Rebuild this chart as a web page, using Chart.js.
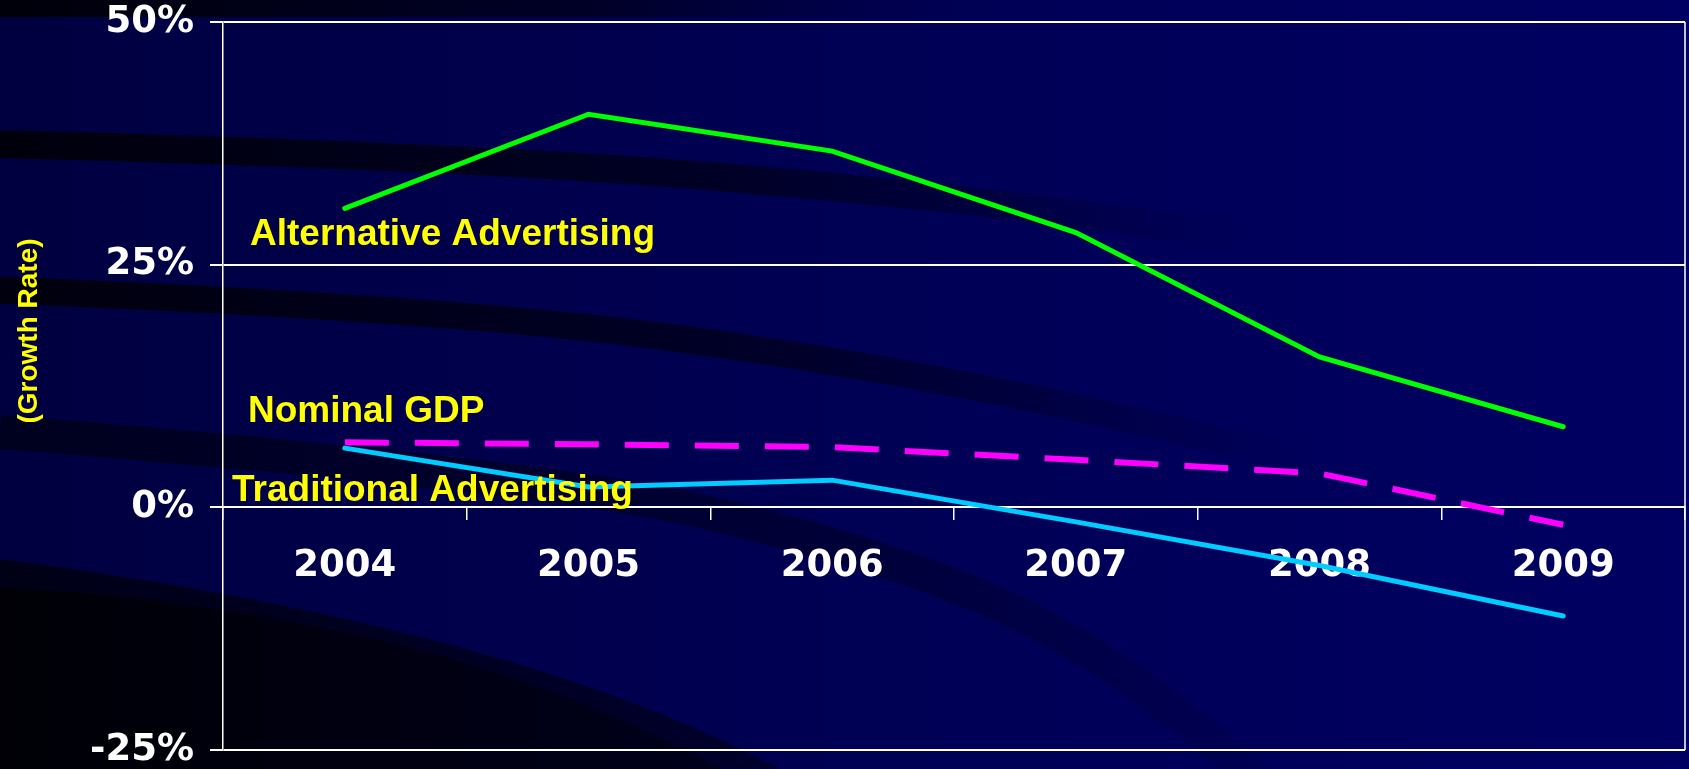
<!DOCTYPE html>
<html>
<head>
<meta charset="utf-8">
<title>Growth Rate</title>
<script src="https://cdn.jsdelivr.net/npm/chart.js@4/dist/chart.umd.min.js"></script>
<style>
  html, body { margin: 0; padding: 0; background: #00004a; overflow: hidden; }
  #wrap { width: 1689px; height: 769px; position: relative; }
</style>
</head>
<body>
<div id="wrap"><canvas id="growthChart"></canvas></div>
<script>
// values (percent growth per year)
const years = ['2004', '2005', '2006', '2007', '2008', '2009'];
const alternativeAdvertising = [30.8, 40.5, 36.7, 28.3, 15.5, 8.3];
const nominalGdp = [6.7, 6.5, 6.2, 4.9, 3.5, -1.8];
const traditionalAdvertising = [6.1, 2.1, 2.8, -1.5, -6.0, -11.2];
const yTickValues = [50, 25, 0, -25];
const seriesNames = ['Alternative Advertising', 'Nominal GDP', 'Traditional Advertising'];
const axisTitle = '(Growth Rate)';

const YELLOW = '#FFFF00';
const TICK_FONT = { family: '"DejaVu Sans", Arial, sans-serif', size: 37, weight: 'bold' };

// draws the dark navy slide background with its curved bands
const slideBackground = {
  id: 'slideBackground',
  beforeDraw(chart) {
    const { ctx, width, height } = chart;
    ctx.save();

    const base = ctx.createLinearGradient(0, 0, width, 0);
    base.addColorStop(0, '#000040');
    base.addColorStop(0.5, '#000054');
    base.addColorStop(1, '#000062');
    ctx.fillStyle = base;
    ctx.fillRect(0, 0, width, height);

    // darker strip along the top edge
    const topStrip = ctx.createLinearGradient(0, 0, 1000, 0);
    topStrip.addColorStop(0, 'rgba(0,0,10,1)');
    topStrip.addColorStop(0.6, 'rgba(0,0,30,0.8)');
    topStrip.addColorStop(1, 'rgba(0,0,60,0)');
    ctx.fillStyle = topStrip;
    ctx.fillRect(0, 0, width, 17);

    const smoothPath = (pts) => {
      ctx.beginPath();
      ctx.moveTo(pts[0][0], pts[0][1]);
      for (let i = 1; i < pts.length - 1; i++) {
        const xc = (pts[i][0] + pts[i + 1][0]) / 2;
        const yc = (pts[i][1] + pts[i + 1][1]) / 2;
        ctx.quadraticCurveTo(pts[i][0], pts[i][1], xc, yc);
      }
      const last = pts[pts.length - 1];
      ctx.lineTo(last[0], last[1]);
    };

    const fade = (x0, x1, a) => {
      const g = ctx.createLinearGradient(x0, 0, x1, 0);
      g.addColorStop(0, 'rgba(0,0,8,' + a + ')');
      g.addColorStop(0.6, 'rgba(0,0,12,' + (a * 0.65) + ')');
      g.addColorStop(1, 'rgba(0,0,20,0)');
      return g;
    };

    ctx.lineCap = 'butt';
    // band 1
    smoothPath([[0, 144], [450, 156], [900, 191], [1260, 238]]);
    ctx.lineWidth = 28;
    ctx.strokeStyle = fade(0, 1260, 0.92);
    ctx.stroke();
    // band 2
    smoothPath([[0, 290], [450, 308], [900, 368], [1320, 462]]);
    ctx.lineWidth = 27;
    ctx.strokeStyle = fade(0, 1320, 0.9);
    ctx.stroke();
    // band 3 sweeping down to the bottom
    smoothPath([[0, 432], [540, 475], [860, 547], [1080, 637], [1260, 780]]);
    ctx.lineWidth = 34;
    ctx.strokeStyle = fade(0, 1400, 0.6);
    ctx.stroke();

    // large dark area in the lower left
    ctx.beginPath();
    ctx.moveTo(0, 559);
    ctx.quadraticCurveTo(512, 626, 780, height);
    ctx.lineTo(0, height);
    ctx.closePath();
    const outer = ctx.createLinearGradient(0, 0, 780, 0);
    outer.addColorStop(0, 'rgba(0,0,22,1)');
    outer.addColorStop(1, 'rgba(0,0,40,0.9)');
    ctx.fillStyle = outer;
    ctx.fill();

    ctx.beginPath();
    ctx.moveTo(0, 587);
    ctx.quadraticCurveTo(450, 615, 720, height);
    ctx.lineTo(0, height);
    ctx.closePath();
    const inner = ctx.createLinearGradient(0, 0, 720, 0);
    inner.addColorStop(0, 'rgba(0,0,6,1)');
    inner.addColorStop(1, 'rgba(0,0,26,0.95)');
    ctx.fillStyle = inner;
    ctx.fill();

    ctx.restore();
  }
};

// right frame edge, series labels and the rotated axis title
const slideText = {
  id: 'slideText',
  afterDatasetsDraw(chart) {
    const { ctx, chartArea } = chart;
    const y = chart.scales.y;
    ctx.save();

    ctx.strokeStyle = '#ffffff';
    ctx.lineWidth = 1.5;
    ctx.beginPath();
    ctx.moveTo(chartArea.right, chartArea.top);
    ctx.lineTo(chartArea.right, chartArea.bottom);
    ctx.stroke();

    ctx.fillStyle = YELLOW;
    ctx.font = 'bold 37px "Liberation Sans", Arial, sans-serif';
    ctx.textAlign = 'left';
    ctx.textBaseline = 'alphabetic';
    // label anchors: [x offset from plot left, baseline value in %]
    const anchors = [[27, 27.0], [25, 8.75], [9, 0.7]];
    seriesNames.forEach((name, i) => {
      ctx.fillText(name, chartArea.left + anchors[i][0], y.getPixelForValue(anchors[i][1]));
    });

    ctx.font = 'bold 28px "Liberation Sans", Arial, sans-serif';
    ctx.translate(29, 331);
    ctx.rotate(-Math.PI / 2);
    ctx.textAlign = 'center';
    ctx.textBaseline = 'middle';
    ctx.fillText(axisTitle, 0, 0);

    ctx.restore();
  }
};

const ctx = document.getElementById('growthChart').getContext('2d');
new Chart(ctx, {
  type: 'line',
  data: {
    labels: years,
    datasets: [
      {
        label: seriesNames[0],
        data: alternativeAdvertising,
        borderColor: '#00FF00',
        borderWidth: 5,
        borderCapStyle: 'round'
      },
      {
        label: seriesNames[1],
        data: nominalGdp,
        borderColor: '#FF00FF',
        borderWidth: 6,
        borderDash: [44, 26]
      },
      {
        label: seriesNames[2],
        data: traditionalAdvertising,
        borderColor: '#00CCFF',
        borderWidth: 5,
        borderCapStyle: 'round'
      }
    ]
  },
  options: {
    responsive: true,
    maintainAspectRatio: false,
    animation: false,
    events: [],
    layout: { padding: { top: 22, right: 4, bottom: 19, left: 0 } },
    elements: {
      point: { radius: 0 },
      line: { tension: 0, fill: false }
    },
    plugins: {
      legend: { display: false },
      tooltip: { enabled: false }
    },
    scales: {
      x: {
        type: 'category',
        position: { y: 0 },
        offset: true,
        grid: {
          offset: true,
          drawOnChartArea: false,
          drawTicks: true,
          tickLength: 12,
          color: '#ffffff',
          lineWidth: 1.5
        },
        border: { display: true, color: '#ffffff', width: 2 },
        ticks: { color: '#ffffff', font: TICK_FONT, padding: 25, maxRotation: 0 },
        afterFit(scale) {
          scale.height = 0;
          scale.paddingLeft = 0;
          scale.paddingRight = 0;
        }
      },
      y: {
        min: -25,
        max: 50,
        afterBuildTicks(scale) {
          scale.ticks = yTickValues.map(v => ({ value: v }));
        },
        grid: {
          color: '#ffffff',
          lineWidth: 2,
          drawTicks: true,
          tickLength: 13
        },
        border: { display: true, color: '#ffffff', width: 1.5 },
        ticks: {
          color: '#ffffff',
          font: TICK_FONT,
          padding: 16,
          callback: v => v + '%'
        },
        afterFit(scale) {
          scale.width = 223;
          scale.paddingTop = 0;
          scale.paddingBottom = 0;
        }
      }
    }
  },
  plugins: [slideBackground, slideText]
});
</script>
</body>
</html>
